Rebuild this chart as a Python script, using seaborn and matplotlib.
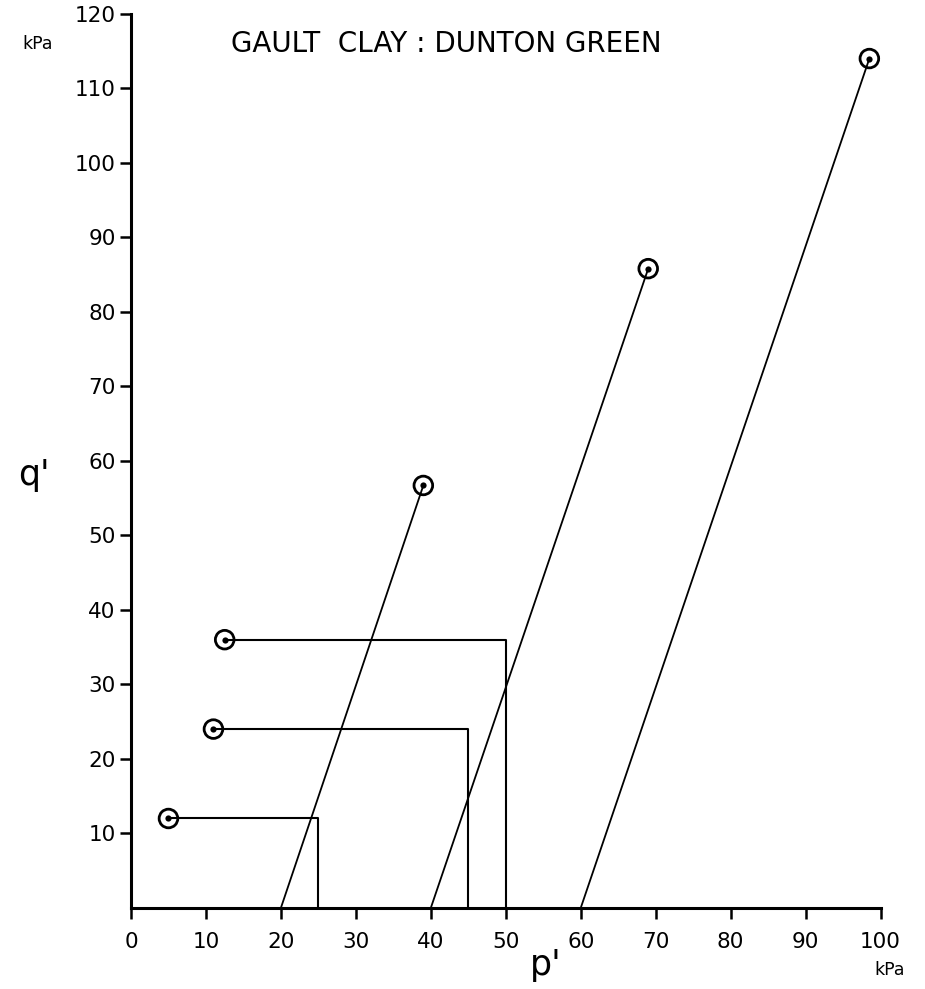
import pandas as pd
import seaborn as sns
import matplotlib.pyplot as plt

# stress paths (p', q' in kPa)
path_ids = ["A", "A", "B", "B", "C", "C"]
path_p = [20, 39, 40, 69, 60, 98.5]
path_q = [0, 56.7, 0, 85.8, 0, 114]

step_ids = ["D", "D", "D", "E", "E", "E", "F", "F", "F"]
step_p = [25, 25, 5, 45, 45, 11, 50, 50, 12.5]
step_q = [0, 12, 12, 0, 24, 24, 0, 36, 36]

end_p = [39, 69, 98.5, 5, 11, 12.5]
end_q = [56.7, 85.8, 114, 12, 24, 36]

x_ticks = list(range(0, 101, 10))
y_ticks = list(range(10, 121, 10))

df_lines = pd.DataFrame({"path": path_ids, "p": path_p, "q": path_q})
df_steps = pd.DataFrame({"path": step_ids, "p": step_p, "q": step_q})
df_ends = pd.DataFrame({"p": end_p, "q": end_q})

sns.set_style("ticks")
plt.rcParams['font.family'] = ['DejaVu Sans']
plt.rcParams['text.color'] = 'black'

fig = plt.figure(figsize=(9.25, 9.89), dpi=100)
ax = fig.add_axes([0.1416, 0.082, 0.8104, 0.904])

sns.lineplot(df_lines, x="p", y="q", units="path", estimator=None, sort=False,
             color="black", linewidth=1.3, ax=ax)
sns.lineplot(df_steps, x="p", y="q", units="path", estimator=None, sort=False,
             color="black", linewidth=1.5, ax=ax)
sns.scatterplot(df_ends, x="p", y="q", s=180, facecolor="none", edgecolor="black",
                linewidth=2, ax=ax, zorder=5)
sns.scatterplot(df_ends, x="p", y="q", s=20, color="black", linewidth=0, ax=ax, zorder=6)

ax.set_xlim(0, 100)
ax.set_ylim(0, 120)
ax.set_xticks(x_ticks)
ax.set_yticks(y_ticks)
ax.tick_params(direction="out", length=8, width=1.8, labelsize=15.5, colors="black")
ax.tick_params(axis="x", pad=9)
ax.tick_params(axis="y", pad=3)
for s in ["left", "bottom"]:
    ax.spines[s].set_linewidth(2.2)
    ax.spines[s].set_color("black")
sns.despine(ax=ax)
ax.set_xlabel("")
ax.set_ylabel("")

fig.text(0.037, 0.52, "q'", fontsize=25, ha="center", va="center")
fig.text(0.59, 0.024, "p'", fontsize=25, ha="center", va="center")
fig.text(0.041, 0.956, "kPa", fontsize=12.5, ha="center", va="center")
fig.text(0.962, 0.019, "kPa", fontsize=12.5, ha="center", va="center")
ax.text(42, 116, "GAULT  CLAY : DUNTON GREEN", fontsize=20, ha="center", va="center")

fig.savefig("out.png", dpi=100)
